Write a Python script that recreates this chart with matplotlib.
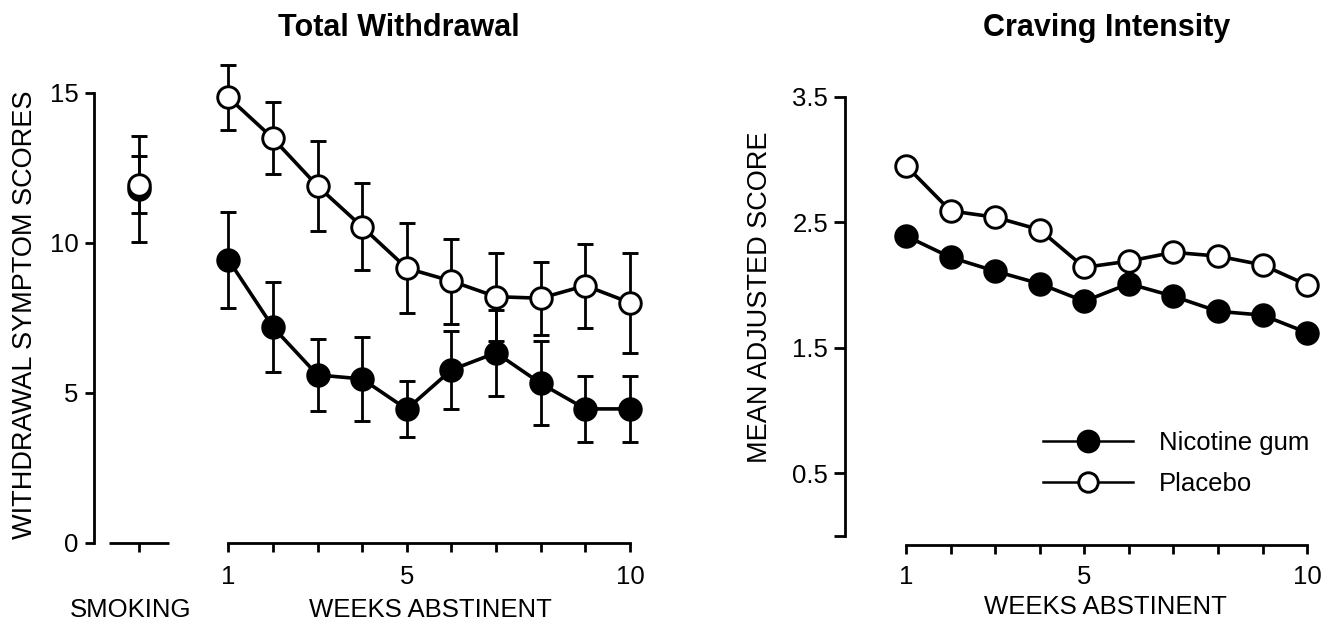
import matplotlib
matplotlib.use("Agg")
import matplotlib.pyplot as plt
from matplotlib.lines import Line2D

plt.rcParams['font.family'] = ['Liberation Sans', 'DejaVu Sans']

# ---------------- data ----------------
weeks = [1, 2, 3, 4, 5, 6, 7, 8, 9, 10]
smoking_x = [-1]

# Total withdrawal (left panel)
nic_smoke = [11.8]
nic_smoke_err = [1.76]
plc_smoke = [11.95]
plc_smoke_err = [0.95]
nic_wd = [9.45, 7.2, 5.6, 5.47, 4.46, 5.77, 6.34, 5.32, 4.47, 4.47]
nic_wd_err = [1.6, 1.5, 1.2, 1.4, 0.94, 1.3, 1.43, 1.4, 1.1, 1.1]
plc_wd = [14.86, 13.49, 11.9, 10.54, 9.16, 8.73, 8.21, 8.16, 8.58, 8.01]
plc_wd_err = [1.08, 1.2, 1.5, 1.45, 1.5, 1.42, 1.47, 1.22, 1.4, 1.67]

# Craving intensity (right panel)
nic_cr = [2.39, 2.22, 2.11, 2.01, 1.87, 2.01, 1.91, 1.79, 1.76, 1.62]
plc_cr = [2.95, 2.59, 2.54, 2.44, 2.14, 2.19, 2.26, 2.23, 2.16, 2.00]

left_yticks = [0, 5, 10, 15]
left_ylabels = ['0', '5', '10', '15']
right_yticks = [0, 0.5, 1.5, 2.5, 3.5]
right_ylabels = ['', '0.5', '1.5', '2.5', '3.5']
week_labels = ['1', '', '', '', '5', '', '', '', '', '10']
labels = ['Nicotine gum', 'Placebo']

# ---------------- style ----------------
W, H = 1325, 625
spine_lw = 2.0
line_lw = 2.6
err_lw = 2.0
ms = 15.5
mew = 2.1
cap = 5.5
tick_fs = 18.5
lab_fs = 18.5

fig = plt.figure(figsize=(W / 100, H / 100), dpi=100)

def style_axes(ax):
    for s in ['top', 'right']:
        ax.spines[s].set_visible(False)
    for s in ['left', 'bottom']:
        ax.spines[s].set_linewidth(spine_lw)
        ax.spines[s].set_capstyle('projecting')
    ax.tick_params(axis='both', which='both', direction='out', width=spine_lw,
                   labelsize=tick_fs, color='black')

# ---------------- left panel ----------------
ax1 = fig.add_axes([94.3 / W, (H - 543) / H, 558 / W, 495 / H])
style_axes(ax1)
ax1.set_xlim(-2, 10.5)
ax1.set_ylim(0, 16.5)
ax1.spines['left'].set_bounds(0, 15)
ax1.spines['bottom'].set_bounds(1, 10)
ax1.set_yticks(left_yticks)
ax1.set_yticklabels(left_ylabels)
ax1.set_xticks(smoking_x + weeks)
ax1.set_xticklabels([''] + week_labels)
ax1.tick_params(axis='y', length=6.5, pad=5)
ax1.tick_params(axis='x', length=6.5, pad=9)
# separate axis segment under the smoking baseline
ax1.plot([smoking_x[0] - 0.68, smoking_x[0] + 0.68], [0, 0], color='black',
         lw=spine_lw, clip_on=False, solid_capstyle='butt')

common = dict(color='black', ms=ms, mew=mew, elinewidth=err_lw, capsize=cap,
              capthick=err_lw, clip_on=False)
ax1.errorbar(smoking_x, nic_smoke, yerr=nic_smoke_err, fmt='o', mfc='black',
             mec='black', zorder=3, **common)
ax1.errorbar(smoking_x, plc_smoke, yerr=plc_smoke_err, fmt='o', mfc='white',
             mec='black', zorder=4, **common)
ax1.errorbar(weeks, nic_wd, yerr=nic_wd_err, fmt='o-', lw=line_lw, mfc='black',
             mec='black', zorder=3, **common)
ax1.errorbar(weeks, plc_wd, yerr=plc_wd_err, fmt='o-', lw=line_lw, mfc='white',
             mec='black', zorder=4, **common)

# ---------------- right panel ----------------
ax2 = fig.add_axes([845 / W, (H - 536) / H, 477.7 / W, 464.4 / H])
style_axes(ax2)
ax2.set_xlim(-0.37, 10.35)
ax2.set_ylim(0, 3.7)
ax2.spines['left'].set_bounds(0, 3.5)
ax2.spines['bottom'].set_bounds(1, 10)
ax2.spines['bottom'].set_position(('outward', 6.5))
ax2.set_yticks(right_yticks)
ax2.set_yticklabels(right_ylabels)
ax2.set_xticks(weeks)
ax2.set_xticklabels(week_labels)
ax2.tick_params(axis='y', length=8, pad=4)
ax2.tick_params(axis='x', length=6.5, pad=8)

ax2.plot(weeks, nic_cr, 'o-', color='black', lw=line_lw, ms=ms, mfc='black',
         mec='black', mew=mew, clip_on=False, zorder=3)
ax2.plot(weeks, plc_cr, 'o-', color='black', lw=line_lw, ms=ms, mfc='white',
         mec='black', mew=mew, clip_on=False, zorder=4)

handles = [Line2D([], [], color='black', lw=1.8, marker='o', ms=ms - 0.5, mfc='black',
                  mec='black', mew=mew),
           Line2D([], [], color='black', lw=1.8, marker='o', ms=ms - 1.5, mfc='white',
                  mec='black', mew=mew)]
ax2.legend(handles, labels, loc='center left',
           bbox_to_anchor=(1043 / W, 1 - 463.5 / H), bbox_transform=fig.transFigure,
           frameon=False, fontsize=lab_fs, handlelength=3.5, handletextpad=1.0,
           labelspacing=0.68, borderpad=0, borderaxespad=0, numpoints=1)

# ---------------- texts ----------------
fig.text(399 / W, 1 - 28 / H, 'Total Withdrawal', ha='center', va='center',
         fontsize=22, fontweight='bold')
fig.text(1107 / W, 1 - 28 / H, 'Craving Intensity', ha='center', va='center',
         fontsize=22, fontweight='bold')
fig.text(25 / W, 1 - 315 / H, 'WITHDRAWAL SYMPTOM SCORES', rotation=90,
         ha='center', va='center', fontsize=19.5)
fig.text(760 / W, 1 - 297 / H, 'MEAN ADJUSTED SCORE', rotation=90,
         ha='center', va='center', fontsize=19.5)
fig.text(131 / W, 1 - 610 / H, 'SMOKING', ha='center', va='center', fontsize=lab_fs)
fig.text(430 / W, 1 - 610 / H, 'WEEKS ABSTINENT', ha='center', va='center',
         fontsize=lab_fs)
fig.text(1105 / W, 1 - 607 / H, 'WEEKS ABSTINENT', ha='center', va='center',
         fontsize=lab_fs)

fig.savefig('out.png', dpi=100)
